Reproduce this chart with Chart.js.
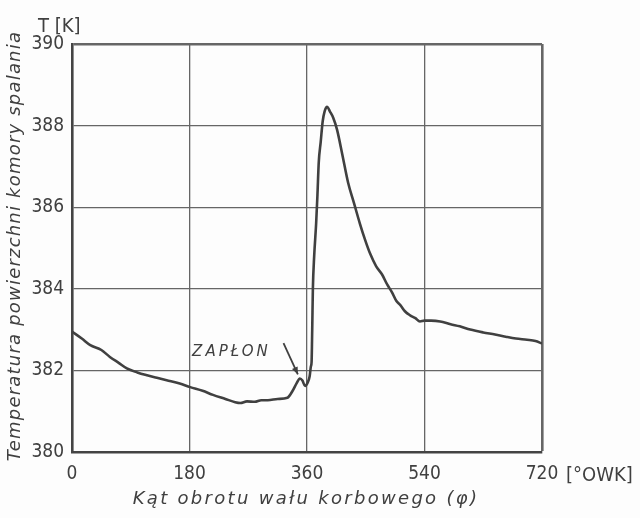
<!DOCTYPE html>
<html>
<head>
<meta charset="utf-8">
<script src="https://cdn.jsdelivr.net/npm/chart.js@4.4.1/dist/chart.umd.min.js"></script>
<style>
  html, body { margin: 0; padding: 0; background: #fdfdfd; }
  #wrap { width: 640px; height: 518px; }
</style>
</head>
<body>
<div id="wrap"><canvas id="chart" width="640" height="518"></canvas></div>
<script>
// kąt obrotu wału korbowego [°OWK]
const angles = [0, 15, 28, 45, 58, 72, 84, 100, 115, 130, 145, 165, 181, 200, 216, 235, 250, 258, 268, 280,
  290, 300, 315, 330, 338, 344, 349, 353, 357, 361, 364, 366, 367, 368, 369, 371, 374, 376, 378, 381,
  384, 387, 391, 395, 400, 406, 414, 423, 432, 441, 449, 457, 466, 475, 483, 490, 497, 503, 510, 518,
  526, 533, 540, 550, 564, 580, 594, 610, 630, 648, 666, 680, 697, 710, 720];
// temperatura powierzchni komory spalania [K]
const temps = [382.95, 382.78, 382.62, 382.5, 382.33, 382.18, 382.05, 381.95, 381.88, 381.82, 381.76, 381.68, 381.59, 381.5, 381.4, 381.3, 381.22, 381.2, 381.24, 381.23,
  381.27, 381.27, 381.3, 381.33, 381.5, 381.68, 381.8, 381.75, 381.62, 381.7, 381.85, 382.1, 382.2, 383.0, 384.0, 384.8, 385.6, 386.3, 387.1, 387.6,
  388.1, 388.35, 388.46, 388.35, 388.2, 387.9, 387.3, 386.6, 386.1, 385.6, 385.2, 384.85, 384.55, 384.35, 384.1, 383.92, 383.7, 383.6, 383.45, 383.35,
  383.28, 383.2, 383.22, 383.22, 383.2, 383.13, 383.08, 383.0, 382.93, 382.88, 382.82, 382.78, 382.75, 382.72, 382.66];
const xTicks = [0, 180, 360, 540, 720];
const yTicks = [380, 382, 384, 386, 388, 390];

const ink = '#404040';
const tickFont = "'Liberation Sans Narrow', 'DejaVu Sans Condensed', sans-serif";
const handFont = "'DejaVu Sans', sans-serif";

// podpisy osi, jednostki i strzałka "ZAPŁON"
const labelsPlugin = {
  id: 'labels',
  afterDraw(chart) {
    const ctx = chart.ctx;
    const xs = chart.scales.x, ys = chart.scales.y;
    ctx.save();
    ctx.fillStyle = ink;
    ctx.strokeStyle = ink;

    ctx.font = "20px " + tickFont;
    ctx.textBaseline = 'alphabetic';
    ctx.textAlign = 'left';
    ctx.fillText('T [K]', 38, 32);
    ctx.fillText('[°OWK]', 566, 481);

    ctx.font = "italic 18px " + handFont;
    ctx.textAlign = 'center';
    ctx.letterSpacing = '2.3px';
    ctx.fillText('Kąt obrotu wału korbowego (φ)', 306, 504);

    ctx.save();
    ctx.translate(20, 246);
    ctx.rotate(-Math.PI / 2);
    ctx.letterSpacing = '1.2px';
    ctx.fillText('Temperatura powierzchni komory spalania', 0, 0);
    ctx.restore();

    ctx.letterSpacing = '3px';
    ctx.font = "italic 15px " + handFont;
    ctx.textAlign = 'left';
    ctx.fillText('ZAPŁON', xs.getPixelForValue(184), ys.getPixelForValue(382.35));

    // strzałka do punktu zapłonu
    const x0 = xs.getPixelForValue(324), y0 = ys.getPixelForValue(382.67);
    const x1 = xs.getPixelForValue(346), y1 = ys.getPixelForValue(381.9);
    ctx.lineWidth = 1.8;
    ctx.beginPath();
    ctx.moveTo(x0, y0);
    ctx.lineTo(x1, y1);
    ctx.stroke();
    const a = Math.atan2(y1 - y0, x1 - x0);
    ctx.beginPath();
    ctx.moveTo(x1, y1);
    ctx.lineTo(x1 - 8 * Math.cos(a - 0.4), y1 - 8 * Math.sin(a - 0.4));
    ctx.lineTo(x1 - 8 * Math.cos(a + 0.4), y1 - 8 * Math.sin(a + 0.4));
    ctx.closePath();
    ctx.fill();
    ctx.restore();
  }
};

new Chart(document.getElementById('chart'), {
  type: 'line',
  data: {
    datasets: [{
      data: angles.map((a, i) => ({ x: a, y: temps[i] })),
      borderColor: ink,
      borderWidth: 2.6,
      pointRadius: 0,
      cubicInterpolationMode: 'monotone',
      fill: false
    }]
  },
  options: {
    responsive: false,
    animation: false,
    layout: { padding: { top: 44, right: 98, left: 0, bottom: 0 } },
    plugins: { legend: { display: false }, tooltip: { enabled: false } },
    scales: {
      x: {
        type: 'linear',
        min: 0,
        max: 720,
        afterBuildTicks: s => { s.ticks = xTicks.map(v => ({ value: v })); },
        afterFit: s => { s.height = 66; },
        ticks: { color: ink, font: { family: tickFont, size: 19 }, padding: 11, maxRotation: 0 },
        grid: {
          color: '#666',
          lineWidth: c => (c.tick && c.tick.value === 720 ? 2.6 : 1.3),
          drawTicks: false
        },
        border: { color: '#444', width: 2.6 }
      },
      y: {
        min: 380,
        max: 390,
        afterBuildTicks: s => { s.ticks = yTicks.map(v => ({ value: v })); },
        afterFit: s => { s.width = 72; },
        ticks: { color: ink, font: { family: tickFont, size: 19 }, padding: 8 },
        grid: {
          color: '#666',
          lineWidth: c => (c.tick && c.tick.value === 390 ? 2.6 : 1.3),
          drawTicks: false
        },
        border: { color: '#444', width: 2.6 }
      }
    }
  },
  plugins: [labelsPlugin]
});
</script>
</body>
</html>
